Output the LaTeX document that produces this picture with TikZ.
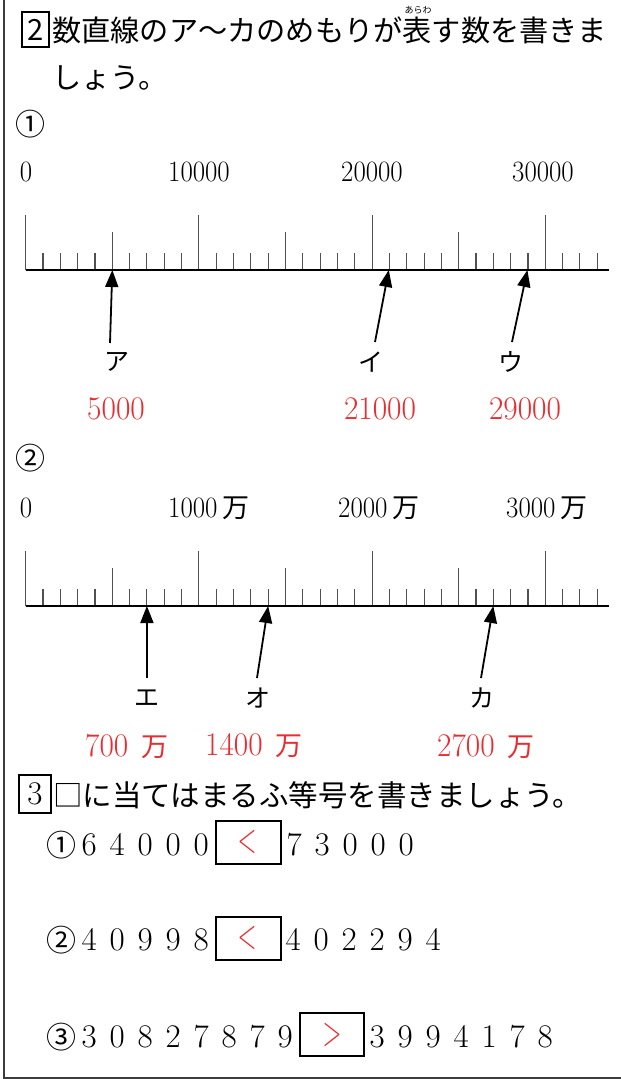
\documentclass[tikz,border=0pt]{standalone}
\usepackage{fontspec}
\usetikzlibrary{arrows.meta}
\newfontfamily\jp{Noto Sans CJK JP}
\newfontfamily\condA[FakeStretch=0.91]{Latin Modern Roman}
\newfontfamily\condB[FakeStretch=0.95]{Latin Modern Roman}
\definecolor{ansred}{RGB}{232,45,50}
\definecolor{tickgray}{RGB}{80,80,80}
\definecolor{framegray}{RGB}{60,60,60}
\newcommand\fw[1]{\makebox[28pt]{#1}}
\begin{document}
\begin{tikzpicture}[x=1pt,y=-1pt,
  jptitle/.style={font=\jp\fontsize{29.2}{31}\selectfont, inner sep=0pt},
  jptext/.style={font=\jp\fontsize{29.5}{31}\selectfont, inner sep=0pt},
  circnum/.style={font=\jp\fontsize{30}{32}\selectfont, inner sep=0pt},
  scalelbl/.style={font=\condA\fontsize{29.5}{31}\selectfont, inner sep=0pt},
  kana/.style={font=\jp\fontsize{25}{27}\selectfont, inner sep=0pt},
  answer/.style={text=ansred, font=\condB\fontsize{33}{35}\selectfont, inner sep=0pt},
  digits/.style={font=\fontsize{33}{35}\selectfont, inner sep=0pt},
  pointer/.style={line width=1.8pt, -{Triangle[length=17pt,width=13pt]}},
  tickline/.style={draw=tickgray, line width=1.1pt},
  baseline/.style={draw=black, line width=1.4pt},
  numbox/.style={draw=black, line width=1.8pt},
  sign/.style={text=ansred, font=\fontsize{44}{46}\selectfont, inner sep=0pt}
]
\useasboundingbox (0,0) rectangle (621,1079);
% frame
\draw[framegray, line width=2pt] (3.5,0) -- (3.5,1078) -- (621,1078);

% ---- problem 2 title
\draw[numbox] (22,12) rectangle (49,47);
\node[jptitle] (two) at (35.5,30) {2};
\node[jptitle, anchor=west] (t1) at (52,30) {数直線のア～カのめもりが表す数を書きま};
\node[font=\jp\fontsize{9}{10}\selectfont, inner sep=0pt] (ruby) at (418,10.5) {あらわ};
\node[jptitle, anchor=west] (t2) at (52,78) {しょう。};

% ---- number line 1
\node[circnum] (c1) at (31,124) {①};
\node[scalelbl] (l10) at (26,172) {0};
\node[scalelbl] (l11) at (199,172) {10000};
\node[scalelbl] (l12) at (372,172) {20000};
\node[scalelbl] (l13) at (543,172) {30000};
\coordinate (b1s) at (25.7,270);
\coordinate (b1e) at (608.7,270);
\foreach \i in {0,...,33} {
  \pgfmathsetmacro\xx{25.7+\i*17.32}
  \pgfmathsetmacro\hh{ifthenelse(mod(\i,10)==0,55,ifthenelse(mod(\i,5)==0,38,17))}
  \draw[tickline] (\xx,270) -- (\xx,270-\hh);
}
\draw[baseline] (b1s) -- (b1e);

\coordinate (pA) at (112.3,270);
\coordinate (pI) at (388.8,270);
\coordinate (pU) at (527.4,270);
\coordinate (sA) at (110,343);
\coordinate (sI) at (375,342);
\coordinate (sU) at (512,342);
\draw[pointer] (sA) -- (pA);
\draw[pointer] (sI) -- (pI);
\draw[pointer] (sU) -- (pU);
\node[kana] (kA) at (117,362) {ア};
\node[kana] (kI) at (371,362) {イ};
\node[kana] (kU) at (511,362) {ウ};
\node[answer] (aA) at (116,409) {5000};
\node[answer] (aI) at (380,409) {21000};
\node[answer] (aU) at (525,409) {29000};

% ---- number line 2
\node[circnum] (c2) at (31,458) {②};
\node[scalelbl] (l20) at (26,508) {0};
\node[scalelbl, anchor=west] (l21) at (168,508) {1000\hspace{5pt}{\jp\fontsize{27}{29}\selectfont 万}};
\node[scalelbl, anchor=west] (l22) at (338,508) {2000\hspace{5pt}{\jp\fontsize{27}{29}\selectfont 万}};
\node[scalelbl, anchor=west] (l23) at (506,508) {3000\hspace{5pt}{\jp\fontsize{27}{29}\selectfont 万}};
\coordinate (b2s) at (25.7,606);
\coordinate (b2e) at (608.7,606);
\foreach \i in {0,...,33} {
  \pgfmathsetmacro\xx{25.7+\i*17.32}
  \pgfmathsetmacro\hh{ifthenelse(mod(\i,10)==0,55,ifthenelse(mod(\i,5)==0,38,17))}
  \draw[tickline] (\xx,606) -- (\xx,606-\hh);
}
\draw[baseline] (b2s) -- (b2e);

\coordinate (pE) at (146.9,606);
\coordinate (pO) at (268.2,606);
\coordinate (pK) at (493.3,606);
\coordinate (sE) at (146.9,678);
\coordinate (sO) at (257,678);
\coordinate (sK) at (481,678);
\draw[pointer] (sE) -- (pE);
\draw[pointer] (sO) -- (pO);
\draw[pointer] (sK) -- (pK);
\node[kana] (kE) at (147,698) {エ};
\node[kana] (kO) at (258,698) {オ};
\node[kana] (kK) at (482,698) {カ};
\node[answer, anchor=west] (aE) at (85,746) {700\hspace{13pt}{\jp\fontsize{27}{29}\selectfont 万}};
\node[answer, anchor=west] (aO) at (205,746) {1400\hspace{13pt}{\jp\fontsize{27}{29}\selectfont 万}};
\node[answer, anchor=west] (aK) at (437,746) {2700\hspace{13pt}{\jp\fontsize{27}{29}\selectfont 万}};

% ---- problem 3
\draw[numbox] (19,775) rectangle (51,813);
\node[digits] (three) at (35,794) {3};
\node[jptext, anchor=west] (t3) at (53,795) {□に当てはまるふ等号を書きましょう。};

\node[circnum] (r1) at (61,845) {①};
\node[digits, anchor=west] (r1a) at (75,845) {\fw6\fw4\fw0\fw0\fw0};
\draw[numbox] (216,821) rectangle (281,864);
\node[sign] (s1) at (247,842) {\scalebox{1}[1.7]{$<$}};
\node[digits, anchor=west] (r1b) at (280,845) {\fw7\fw3\fw0\fw0\fw0};

\node[circnum] (r2) at (61,940) {②};
\node[digits, anchor=west] (r2a) at (75,940) {\fw4\fw0\fw9\fw9\fw8};
\draw[numbox] (216,917) rectangle (281,960);
\node[sign] (s2) at (247,938) {\scalebox{1}[1.7]{$<$}};
\node[digits, anchor=west] (r2b) at (279,940) {\fw4\fw0\fw2\fw2\fw9\fw4};

\node[circnum] (r3) at (61,1037) {③};
\node[digits, anchor=west] (r3a) at (75,1037) {\fw3\fw0\fw8\fw2\fw7\fw8\fw7\fw9};
\draw[numbox] (300,1013) rectangle (364,1056);
\node[sign] (s3) at (332,1035) {\scalebox{1}[1.7]{$>$}};
\node[digits, anchor=west] (r3b) at (363,1037) {\fw3\fw9\fw9\fw4\fw1\fw7\fw8};
\end{tikzpicture}
\end{document}
